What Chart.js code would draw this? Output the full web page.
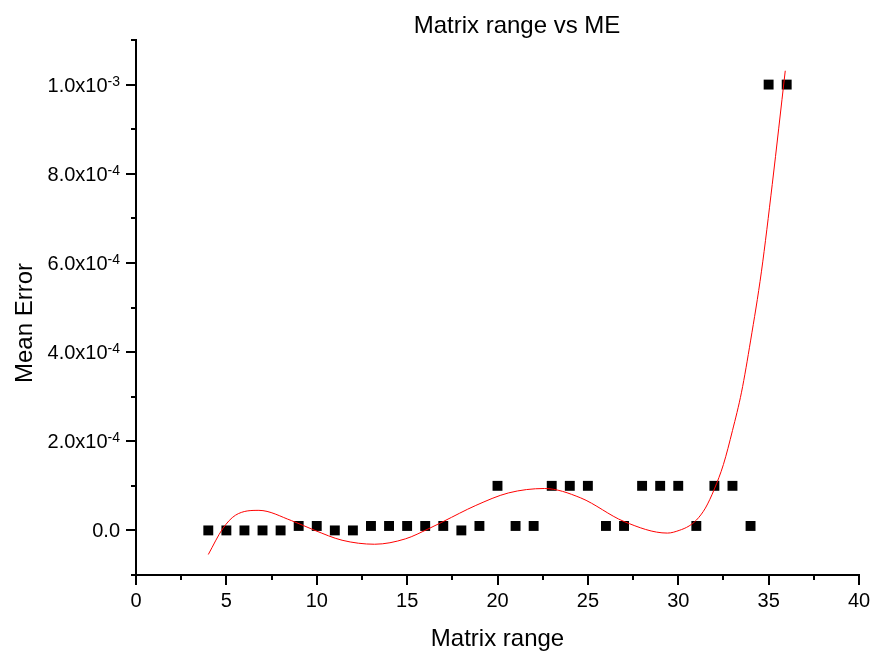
<!DOCTYPE html>
<html>
<head>
<meta charset="utf-8">
<script src="https://cdn.jsdelivr.net/npm/chart.js@4.4.1/dist/chart.umd.min.js"></script>
<style>
  html, body { margin: 0; padding: 0; background: #fff; }
  #box { width: 870px; height: 653px; position: relative; }
</style>
</head>
<body>
<div id="box"><canvas id="gp"></canvas></div>
<script>
const ctx = document.getElementById("gp");

const FONT = "'Liberation Sans', Arial, Helvetica, sans-serif";

// measured points
const matrixRange = [4,5,6,7,8,9,10,11,12,13,14,15,16,17,18,19,20,
                     21,22,23,24,25,26,27,28,29,30,31,32,33,34,35,36];
const meanError = [0,0,0,0,0,1e-5,1e-5,0,0,1e-5,1e-5,1e-5,1e-5,1e-5,0,1e-5,1e-4,
                   1e-5,1e-5,1e-4,1e-4,1e-4,1e-5,1e-5,1e-4,1e-4,1e-4,1e-5,1e-4,1e-4,1e-5,1e-3,1e-3];

// polynomial fit (red line), sampled along the curve
const fitX = [4.0, 4.8, 5.5, 6.8, 8.6, 9.9, 11.4, 13.2, 14.9, 16.2, 17.0, 18.8, 20.6,
              22.6, 24.6, 27.0, 29.4, 30.05, 30.6, 31.0, 31.5, 32.0, 32.5, 33.0, 33.5,
              34.0, 34.6, 35.2, 35.92];
const fitY = [-5.4e-5, 0.4e-5, 3.4e-5, 4.5e-5, 2.2e-5, 0, -2.2e-5, -3.1e-5, -1.9e-5, 0.4e-5,
              2.0e-5, 5.6e-5, 8.4e-5, 9.4e-5, 7.3e-5, 2.0e-5, -0.6e-5, 0, 1.0e-5, 2.3e-5,
              5.0e-5, 9.3e-5, 14.8e-5, 22.4e-5, 31.0e-5, 42.5e-5, 58.0e-5, 77.6e-5, 103.1e-5];

// axis ticks
const xMinor = [2.5, 7.5, 12.5, 17.5, 22.5, 27.5, 32.5, 37.5];
const yTicks = [0, 2e-4, 4e-4, 6e-4, 8e-4, 1e-3];
const yTickBase = ["0.0", "2.0x10", "4.0x10", "6.0x10", "8.0x10", "1.0x10"];
const yTickExp = ["", "-4", "-4", "-4", "-4", "-3"];
const yMinor = [-1e-4, 1e-4, 3e-4, 5e-4, 7e-4, 9e-4, 1.1e-3];

// minor ticks, y labels with exponents, titles
const decor = {
    id: "decor",
    afterDraw(chart) {
        const c = chart.ctx;
        const xs = chart.scales.x, ys = chart.scales.y;
        const area = chart.chartArea;
        c.save();
        c.strokeStyle = "#000";
        c.lineWidth = 2;
        c.beginPath();
        xMinor.forEach(v => {
            const p = Math.round(xs.getPixelForValue(v));
            c.moveTo(p, area.bottom);
            c.lineTo(p, area.bottom + 5);
        });
        yMinor.forEach(v => {
            const p = Math.round(ys.getPixelForValue(v));
            c.moveTo(area.left - 5, p);
            c.lineTo(area.left, p);
        });
        c.stroke();

        c.fillStyle = "#000";
        c.textBaseline = "alphabetic";
        const right = area.left - 16;
        yTicks.forEach((v, i) => {
            const p = ys.getPixelForValue(v);
            let x = right;
            if (yTickExp[i]) {
                c.font = "14px " + FONT;
                c.textAlign = "right";
                c.fillText(yTickExp[i], x, p + 1);
                x -= c.measureText(yTickExp[i]).width;
            }
            c.font = "20px " + FONT;
            c.textAlign = "right";
            c.fillText(yTickBase[i], x, p + 7);
        });

        c.font = "24px " + FONT;
        c.textAlign = "center";
        c.fillText("Matrix range vs ME", 517, 33);
        c.fillText("Matrix range", (area.left + area.right) / 2, 646);
        c.translate(32, 323);
        c.rotate(-Math.PI / 2);
        c.fillText("Mean Error", 0, 0);
        c.restore();
    }
};

const tickGrid = {
    drawOnChartArea: false,
    drawTicks: true,
    tickLength: 10,
    color: "#000",
    lineWidth: 2,
};

new Chart(ctx, {
    type: "scatter",
    data: {
        datasets: [
            {
                type: "line",
                label: "fit",
                data: fitX.map((x, i) => ({ x: x, y: fitY[i] })),
                borderColor: "#ff0000",
                borderWidth: 1,
                pointRadius: 0,
                fill: false,
                cubicInterpolationMode: "monotone",
                order: 0,
            },
            {
                label: "ME",
                data: matrixRange.map((x, i) => ({ x: x, y: meanError[i] })),
                pointStyle: "rect",
                pointRadius: 7,
                backgroundColor: "#000",
                borderWidth: 0,
                order: 1,
            },
        ],
    },
    options: {
        responsive: true,
        maintainAspectRatio: false,
        animation: false,
        events: [],
        layout: { padding: { top: 40, right: 11, left: 0, bottom: 0 } },
        plugins: {
            legend: { display: false },
            tooltip: { enabled: false },
        },
        scales: {
            x: {
                type: "linear",
                min: 0,
                max: 40,
                ticks: {
                    stepSize: 5,
                    color: "#000",
                    font: { size: 20, family: FONT },
                    padding: 4,
                    maxRotation: 0,
                },
                grid: tickGrid,
                border: { display: true, color: "#000", width: 2 },
                afterFit(s) {
                    s.height = 78;
                    s.paddingLeft = 0;
                    s.paddingRight = 0;
                },
            },
            y: {
                type: "linear",
                min: -1e-4,
                max: 1.1e-3,
                afterBuildTicks(s) {
                    s.ticks = yTicks.map(v => ({ value: v }));
                },
                ticks: { display: false },
                grid: tickGrid,
                border: { display: true, color: "#000", width: 2 },
                afterFit(s) {
                    s.width = 136;
                },
            },
        },
    },
    plugins: [decor],
});
</script>
</body>
</html>
